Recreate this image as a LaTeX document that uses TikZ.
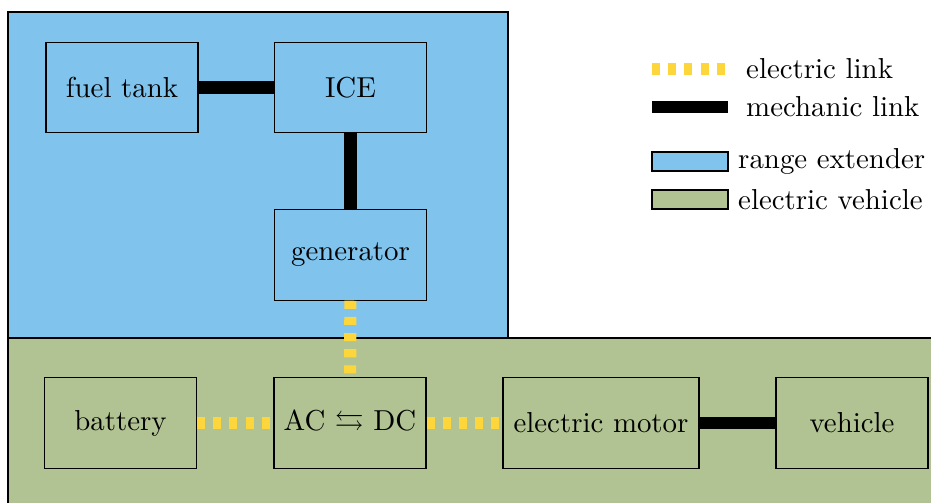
\documentclass[tikz,border=0pt]{standalone}
\usepackage{amsmath}
\usepackage{amssymb}
\usepackage{xcolor}
\usepackage{tikz}
\definecolor{rangeblue}{RGB}{128,196,238}
\definecolor{evgreen}{RGB}{178,195,147}
\definecolor{linkyellow}{RGB}{253,214,60}

\begin{document}
\begin{tikzpicture}[
			     x=0.01217cm, y=-0.01217cm,
			     block/.style={draw, minimum width=1.85cm, minimum height=1.1cm, inner sep=2pt},
			     mech link/.style={line width=4.2pt},
			     elec link/.style={line width=4.2pt, linkyellow, dash pattern=on 2.8pt off 2.8pt},
			     legend text/.style={anchor=west}
			     ]
\useasboundingbox (0,0) rectangle (931,503);
% areas
\path[draw, fill=rangeblue] (8,12) rectangle (508,338);
\path[draw, fill=evgreen] (8,338) rectangle (935,510);
%
\node[block] (tank) at (122,87.5) {fuel tank};
\node[block] (ice) at (350.5,87.5) {ICE};
\node[block] (gen) at (350.5,255) {generator};
\node[block] (bat) at (120.5,423) {battery};
\node[block] (conv) at (350,423) {AC $\leftrightarrows$ DC};
\node[block, minimum width=2.385cm] (motor) at (601,423) {electric motor};
\node[block] (veh) at (852,423) {vehicle};
%
\path (tank) edge[mech link] (ice);
\path (ice) edge[mech link] (gen);
\path (motor) edge[mech link] (veh);
\path (gen) edge[elec link] (conv);
\path (bat) edge[elec link] (conv);
\path (conv) edge[elec link] (motor);
% legend
\coordinate (el-a) at (652,69);
\coordinate (el-b) at (725,69);
\coordinate (ml-a) at (652,107);
\coordinate (ml-b) at (728,107);
\path (el-a) edge[elec link] (el-b);
\path (ml-a) edge[mech link] (ml-b);
\node[legend text] (el-txt) at (736,69) {electric link};
\node[legend text] (ml-txt) at (736,107) {mechanic link};
\path[draw, fill=rangeblue] (652,152) rectangle (728,171);
\path[draw, fill=evgreen] (652,190) rectangle (728,209);
\node[legend text] (re-txt) at (728,161.5) {range extender};
\node[legend text] (ev-txt) at (728,199.5) {electric vehicle};
\end{tikzpicture}
\end{document}
